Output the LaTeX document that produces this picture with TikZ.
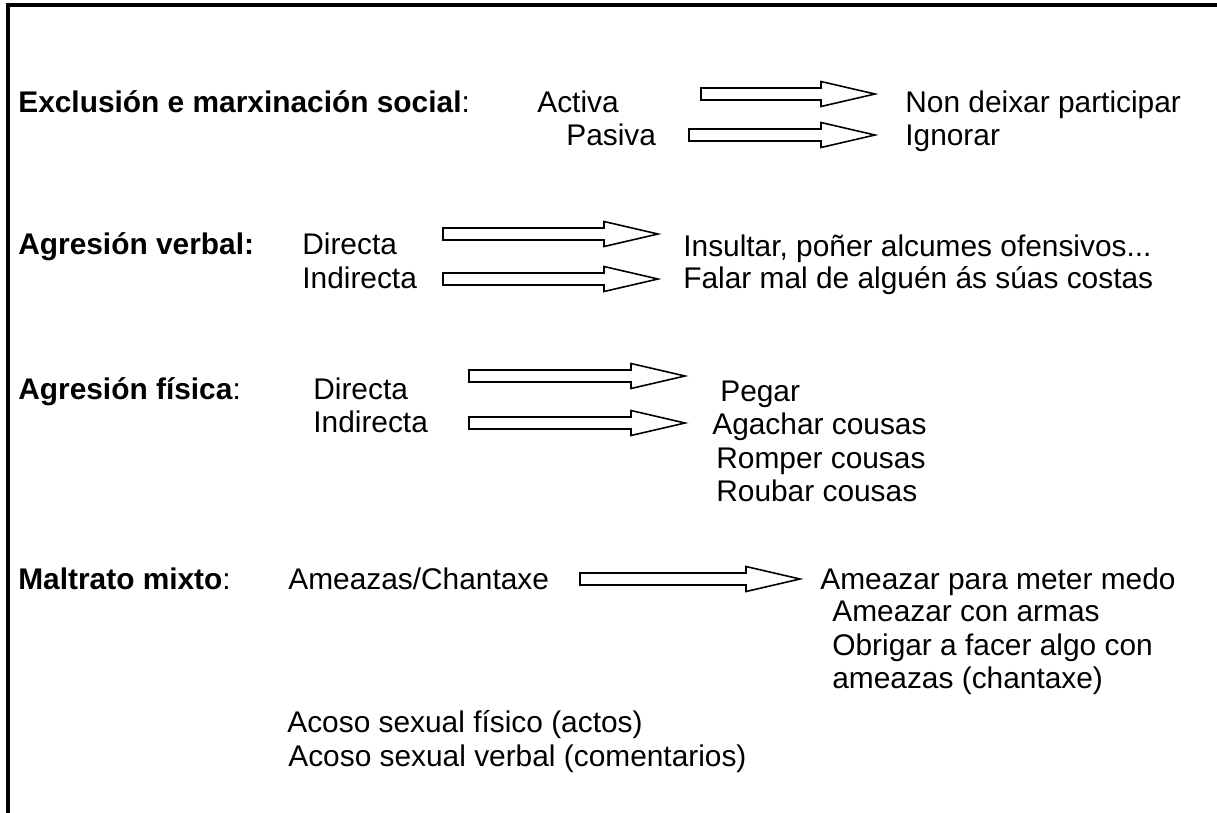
\documentclass[tikz,border=0pt]{standalone}
\usepackage{fontspec}
\setmainfont{Liberation Sans}
\tikzset{
  txt/.style={anchor=base west, inner sep=0pt, font=\fontsize{17}{19}\selectfont},
  fatarr/.style={draw=black, line width=0.9pt, fill=white, line join=miter},
}
% outlined block arrow: start x, tip x, centre y (pixel units)
\newcommand\fatarrow[3]{%
  \draw[fatarr] (#1,#3-6) -- (#2-54,#3-6) -- (#2-54,#3-12.5) -- (#2,#3)
    -- (#2-54,#3+12.5) -- (#2-54,#3+6) -- (#1,#3+6) -- cycle;}
\begin{document}
\begin{tikzpicture}[x=0.02cm, y=-0.02cm]
\useasboundingbox (0,0) rectangle (1217,812);

% open frame
\draw[line width=2pt] (8,830) -- (8,5) -- (1230,5);

% Exclusion
\node[txt] (excl) at (18,112) {\textbf{Exclusión e marxinación social}:};
\node[txt] (activa) at (537,112) {Activa};
\node[txt] (pasiva) at (566,145) {Pasiva};
\node[txt] (nondeixar) at (905,112) {Non deixar participar};
\node[txt] (ignorar) at (905,145) {Ignorar};
\fatarrow{701}{875}{94}
\fatarrow{689}{875}{135}

% Agresion verbal
\node[txt] (verbal) at (18,254) {\textbf{Agresión verbal:}};
\node[txt] (vdirecta) at (302,254) {Directa};
\node[txt] (vindirecta) at (302,288) {Indirecta};
\node[txt] (insultar) at (683,256) {Insultar, poñer alcumes ofensivos...};
\node[txt] (falar) at (683,288) {Falar mal de alguén ás súas costas};
\fatarrow{443}{658}{234}
\fatarrow{443}{658}{279}

% Agresion fisica
\node[txt] (fisica) at (18,399) {\textbf{Agresión física}:};
\node[txt] (fdirecta) at (313,399) {Directa};
\node[txt] (findirecta) at (313,432) {Indirecta};
\node[txt] (pegar) at (720,401) {Pegar};
\node[txt] (agachar) at (712,434) {Agachar cousas};
\node[txt] (romper) at (716,468) {Romper cousas};
\node[txt] (roubar) at (716,501) {Roubar cousas};
\fatarrow{469}{685}{376}
\fatarrow{469}{685}{423}

% Maltrato mixto
\node[txt] (mixto) at (18,589) {\textbf{Maltrato mixto}:};
\node[txt] (ameazas) at (288,589) {Ameazas/Chantaxe};
\node[txt] (medo) at (820,589) {Ameazar para meter medo};
\node[txt] (armas) at (832,621) {Ameazar con armas};
\node[txt] (obrigar) at (832,655) {Obrigar a facer algo con};
\node[txt] (chantaxe) at (832,688) {ameazas (chantaxe)};
\node[txt] (fisico) at (287,732) {Acoso sexual físico (actos)};
\node[txt] (verbalac) at (288,766) {Acoso sexual verbal (comentarios)};
\fatarrow{580}{800}{579}
\end{tikzpicture}
\end{document}
